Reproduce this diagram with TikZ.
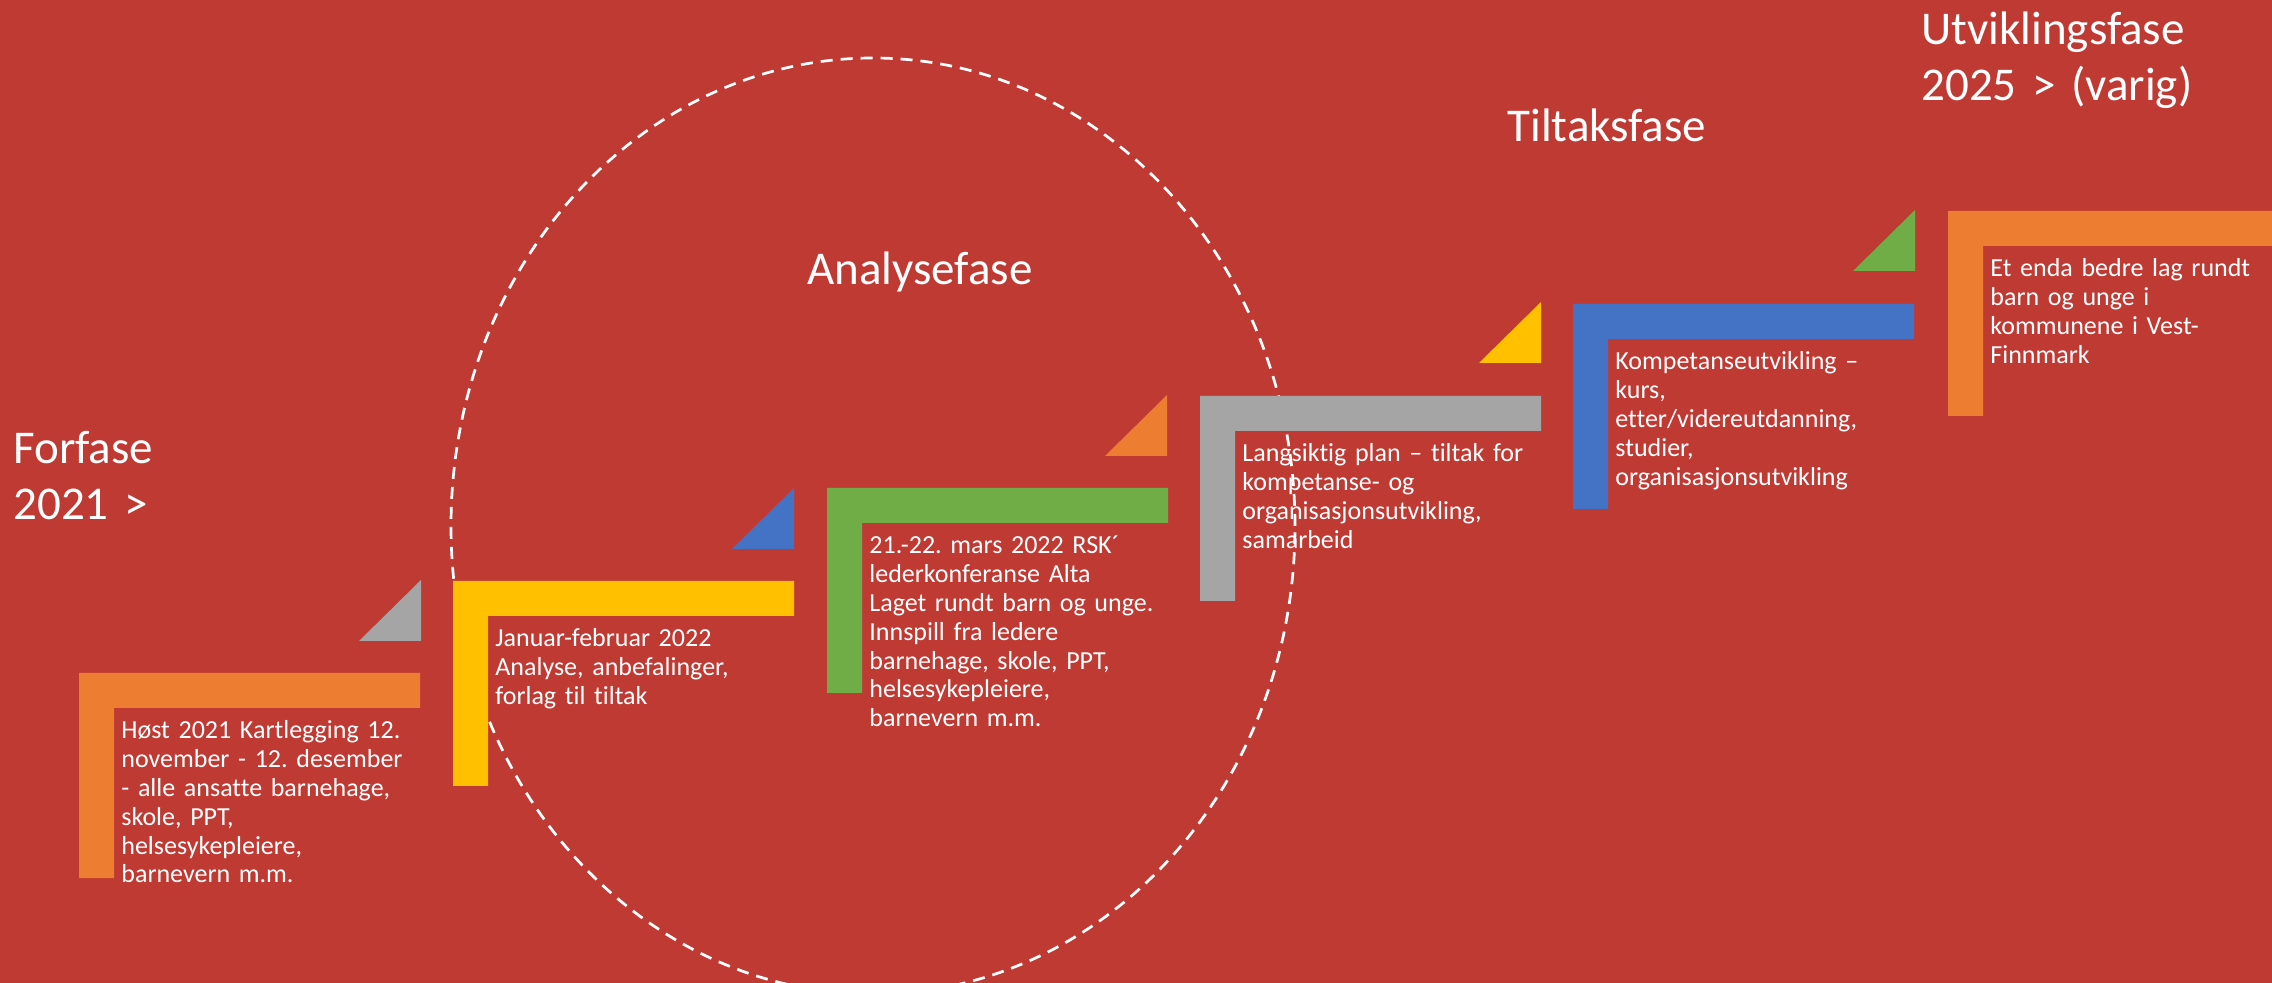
\documentclass[tikz,border=0pt]{standalone}
\usepackage{fontspec}
\setmainfont{Carlito}[Ligatures={TeX,NoCommon}]
\definecolor{bgred}{RGB}{192,58,52}
\definecolor{accOrange}{HTML}{ED7D31}
\definecolor{accGray}{HTML}{A5A5A5}
\definecolor{accYellow}{HTML}{FFC000}
\definecolor{accBlue}{HTML}{4472C4}
\definecolor{accGreen}{HTML}{70AD47}
\frenchspacing
\begin{document}
\begin{tikzpicture}[x=0.5pt,y=-0.5pt,
  steptext/.style={text=white, font=\fontsize{13}{14.4}\selectfont\frenchspacing, anchor=base west, inner sep=0pt, text width=200pt, align=left},
  phase/.style={text=white, font=\fontsize{23.5}{28}\selectfont\frenchspacing, anchor=base west, inner sep=0pt, text width=300pt, align=left},
  ring/.style={draw=white, line width=1.35pt, dash pattern=on 6pt off 4pt}]
\fill[bgred] (0,0) rectangle (2272,983);
\useasboundingbox (0,0) rectangle (2272,983);
% dashed ring around the analysis phase
\draw[ring] (873,526) ellipse [x radius=211pt, y radius=234pt];
% L-shaped steps
\foreach \x/\y/\c in {79/673/accOrange, 453/581/accYellow, 827/488/accGreen, 1200/396/accGray, 1573/304/accBlue, 1948/211/accOrange}{
  \fill[\c] (\x,\y) -- ++(341,0) -- ++(0,35) -- ++(-306,0) -- ++(0,170) -- ++(-35,0) -- cycle;
}
% small triangles
\foreach \rx/\by/\c in {421/641/accGray, 794/549/accBlue, 1167/456/accOrange, 1541/363/accYellow, 1915/271/accGreen}{
  \fill[\c] (\rx,\by) -- ++(0,-61) -- ++(-62,61) -- cycle;
}
% texts
\node[steptext] (t1) at (121,739) {Høst 2021 Kartlegging 12.\\november - 12. desember\\- alle ansatte barnehage,\\skole, PPT,\\helsesykepleiere,\\barnevern m.m.};
\node[steptext] (t2) at (495,647) {Januar-februar 2022\\Analyse, anbefalinger,\\forlag til tiltak};
\node[steptext] (t3) at (869,554) {21.-22. mars 2022 RSK´\\lederkonferanse Alta\\Laget rundt barn og unge.\\Innspill fra ledere\\barnehage, skole, PPT,\\helsesykepleiere,\\barnevern m.m.};
\node[steptext] (t4) at (1242,462) {Langsiktig plan – tiltak for\\kompetanse- og\\organisasjonsutvikling,\\samarbeid};
\node[steptext] (t5) at (1615,370) {Kompetanseutvikling –\\kurs,\\etter/videreutdanning,\\studier,\\organisasjonsutvikling};
\node[steptext] (t6) at (1990,277) {Et enda bedre lag rundt\\barn og unge i\\kommunene i Vest-\\Finnmark};
% phase labels
\node[phase] (p1) at (13,464) {Forfase\\2021 >};
\node[phase] (p2) at (807,285) {Analysefase};
\node[phase] (p3) at (1507,142) {Tiltaksfase};
\node[phase] (p4) at (1921,45) {Utviklingsfase\\2025 > (varig)};
\end{tikzpicture}
\end{document}
